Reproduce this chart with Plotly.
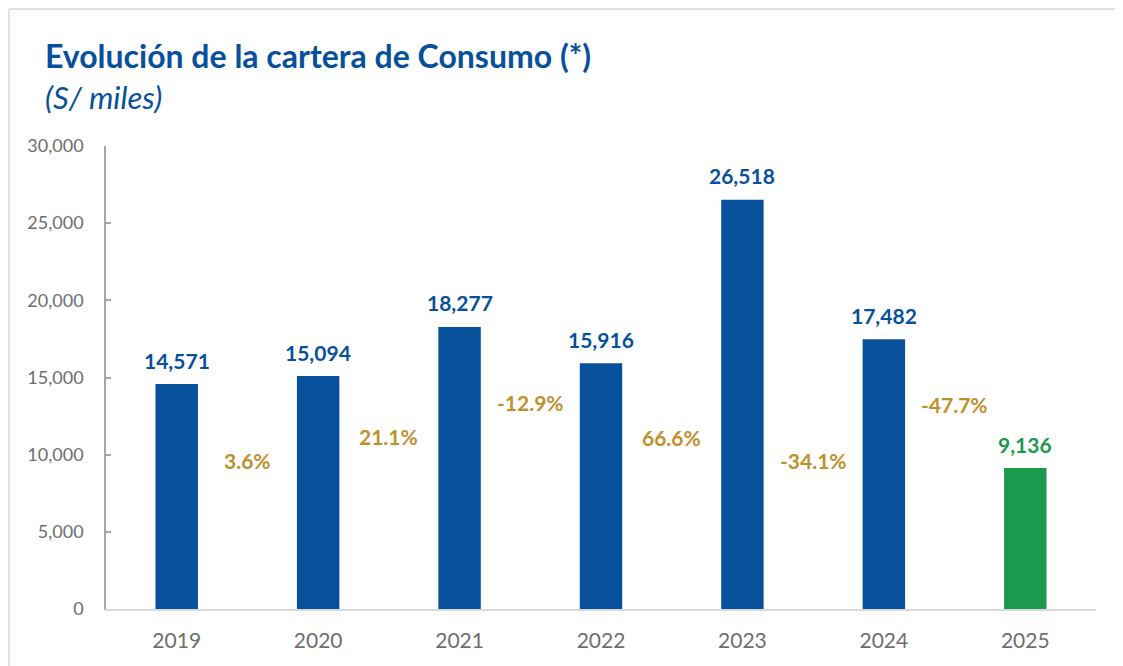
import plotly.graph_objects as go

years = ["2019", "2020", "2021", "2022", "2023", "2024", "2025"]
values = [14571, 15094, 18277, 15916, 26518, 17482, 9136]
value_labels = ["14,571", "15,094", "18,277", "15,916", "26,518", "17,482", "9,136"]
growth_labels = ["3.6%", "21.1%", "-12.9%", "66.6%", "-34.1%", "-47.7%"]
y_ticks = [0, 5000, 10000, 15000, 20000, 25000, 30000]

# layout-only: vertical placement of the growth labels (data units)
growth_label_y = [9600, 11150, 13400, 11100, 9650, 13250]

BLUE = "#07509b"
GREEN = "#1b9a4e"
GOLD = "#bf912e"
GRAY = "#6e6e6e"
FONT = "Lato"

bar_colors = [BLUE] * (len(years) - 1) + [GREEN]

fig = go.Figure()
fig.add_trace(go.Bar(
    x=years, y=values, marker=dict(color=bar_colors, line=dict(width=0)),
    width=0.3, hoverinfo="skip", showlegend=False,
))

annotations = []
for i, (v, lab) in enumerate(zip(values, value_labels)):
    annotations.append(dict(
        x=i, y=v, xref="x", yref="y", text=lab, showarrow=False,
        yanchor="middle", yshift=24,
        font=dict(family=FONT, size=21, color=bar_colors[i], weight="bold"),
    ))
for i, (lab, gy) in enumerate(zip(growth_labels, growth_label_y)):
    annotations.append(dict(
        x=i + 0.5, y=gy, xref="x", yref="y", text=lab, showarrow=False,
        yanchor="middle",
        font=dict(family=FONT, size=21, color=GOLD, weight="bold"),
    ))

OFF = 8  # page body margin
W, H = 1123, 666
L, T = 106 - OFF, 146 - OFF
R = W - (1096 - OFF)
B = H - (609 - OFF)
pw, ph = W - L - R, H - T - B

def px_x(px):
    return (px - OFF - L) / pw

def px_y(py):
    return (H - B - (py - OFF)) / ph

annotations.append(dict(
    x=px_x(43), y=px_y(55), xref="paper", yref="paper", xanchor="left", yanchor="middle",
    text="<b>Evolución de la cartera de Consumo (*)</b>", showarrow=False,
    font=dict(family=FONT, size=32, color=BLUE),
))
annotations.append(dict(
    x=px_x(43), y=px_y(97), xref="paper", yref="paper", xanchor="left", yanchor="middle",
    text="<i>(S/ miles)</i>", showarrow=False,
    font=dict(family=FONT, size=31, color=BLUE),
))

shapes = [
    dict(type="line", xref="paper", yref="paper", x0=px_x(9), x1=px_x(1140), y0=px_y(9), y1=px_y(9),
         line=dict(color="#d9d9d9", width=1.5)),
    dict(type="line", xref="paper", yref="paper", x0=px_x(9), x1=px_x(9), y0=px_y(9), y1=px_y(680),
         line=dict(color="#d9d9d9", width=1.5)),
]

fig.update_layout(
    width=W, height=H,
    margin=dict(l=L, r=R, t=T, b=B),
    plot_bgcolor="white", paper_bgcolor="white",
    annotations=annotations, shapes=shapes,
    xaxis=dict(
        type="category", showline=True, linecolor="#d9d9d9", linewidth=1.5,
        showgrid=False, zeroline=False, ticks="",
        tickfont=dict(family=FONT, size=21, color=GRAY), ticklabelstandoff=12,
    ),
    yaxis=dict(
        range=[0, 30000], tickvals=y_ticks, tickformat=",",
        showline=True, linecolor="#a6a6a6", linewidth=1.5,
        ticks="inside", ticklen=5, tickcolor="#a6a6a6", tickwidth=1.5,
        showgrid=False, zeroline=False,
        tickfont=dict(family=FONT, size=18, color=GRAY), ticklabelstandoff=17,
    ),
    bargap=0.7,
)

fig.write_html("out.html")
